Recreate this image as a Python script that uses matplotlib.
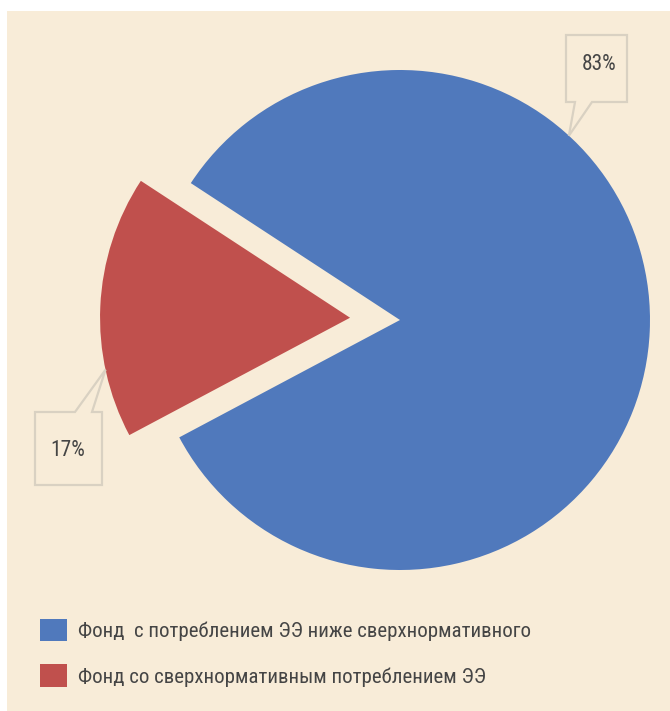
import math
import matplotlib
matplotlib.use("Agg")
import matplotlib.pyplot as plt
from matplotlib import font_manager
from matplotlib.font_manager import FontProperties
from matplotlib.patches import Rectangle, Polygon

# Shares of the well stock by power consumption
categories = [
    "Фонд  с потреблением ЭЭ ниже сверхнормативного",
    "Фонд со сверхнормативным потреблением ЭЭ",
]
shares = [83, 17]
colors = ["#5079BC", "#C0504D"]

BG = "#F8ECD8"
EDGE = "#D9D1C2"
TEXT = "#454545"


def narrow_font(size):
    """Prefer a narrow/condensed regular sans face; fall back to Roboto."""
    prefs = ["Liberation Sans Narrow", "Arial Narrow", "Roboto Condensed",
             "DejaVu Sans", "Noto Sans", "Open Sans"]
    found = {}
    for f in font_manager.fontManager.ttflist:
        st = f.stretch
        cond = ("Narrow" in f.name or "Condensed" in f.name
                or st in ("condensed", "semi-condensed", "extra-condensed")
                or (isinstance(st, int) and st < 500)
                or "Condensed" in f.fname or "Narrow" in f.fname)
        w = f.weight
        regular = w in (400, "normal", "regular", "book") and f.style == "normal"
        if cond and regular:
            found.setdefault(f.name, f.fname)
    for name in prefs:
        if name in found:
            return FontProperties(fname=found[name], size=size)
    return FontProperties(family="Roboto", size=size)


W, H = 670, 711
fig = plt.figure(figsize=(W / 100, H / 100), dpi=100, facecolor="white")
ax = fig.add_axes([0, 0, 1, 1])


def py(y_img):
    """Convert a top-down pixel row into data y."""
    return H - y_img


# beige panel
ax.add_patch(Rectangle((7, 0), W - 7, H - 11, facecolor=BG, edgecolor="none", zorder=0))

center = (400, py(320))
radius = 250
wedges, _ = ax.pie(shares, colors=colors, startangle=-152, explode=[0, 50],
                   radius=radius, center=center, frame=True,
                   wedgeprops=dict(linewidth=0, zorder=2))
ax.set_xlim(0, W)
ax.set_ylim(0, H)
ax.set_aspect("equal")
ax.axis("off")


def point_on(wedge, angle_deg):
    cx, cy = wedge.center
    a = math.radians(angle_deg)
    return cx + wedge.r * math.cos(a), cy + wedge.r * math.sin(a)


def callout(x0, y0, x1, y1, side, base, tip, label, text_xy):
    """Box (image rows y0<y1) with a pointer leaving the given side."""
    bx0, bx1 = base
    if side == "bottom":
        pts = [(x0, py(y0)), (x1, py(y0)), (x1, py(y1)), (bx1, py(y1)), tip,
               (bx0, py(y1)), (x0, py(y1))]
    else:
        pts = [(x0, py(y1)), (x1, py(y1)), (x1, py(y0)), (bx1, py(y0)), tip,
               (bx0, py(y0)), (x0, py(y0))]
    ax.add_patch(Polygon(pts, closed=True, facecolor=BG, edgecolor=EDGE,
                         linewidth=1.6, zorder=3, joinstyle="miter"))
    ax.text(text_xy[0], py(text_xy[1]), label, ha="center", va="center",
            fontproperties=narrow_font(15.5), color=TEXT, zorder=4)


tip_big = point_on(wedges[0], 47.5)
tip_small = point_on(wedges[1], 192)
callout(566, 35, 627, 102, "bottom", (575, 592), tip_big, f"{shares[0]}%", (599, 65))
callout(35, 412, 102, 485, "top", (75, 92), tip_small, f"{shares[1]}%", (68, 450))

leg = ax.legend(wedges, categories, loc="upper left",
                bbox_to_anchor=(21, py(600)), bbox_transform=ax.transData,
                frameon=False, handlelength=1.3, handleheight=1.3,
                handletextpad=0.55, labelspacing=1.1,
                prop=narrow_font(15))
for t in leg.get_texts():
    t.set_color(TEXT)

fig.savefig("out.png", dpi=100, facecolor="white")
